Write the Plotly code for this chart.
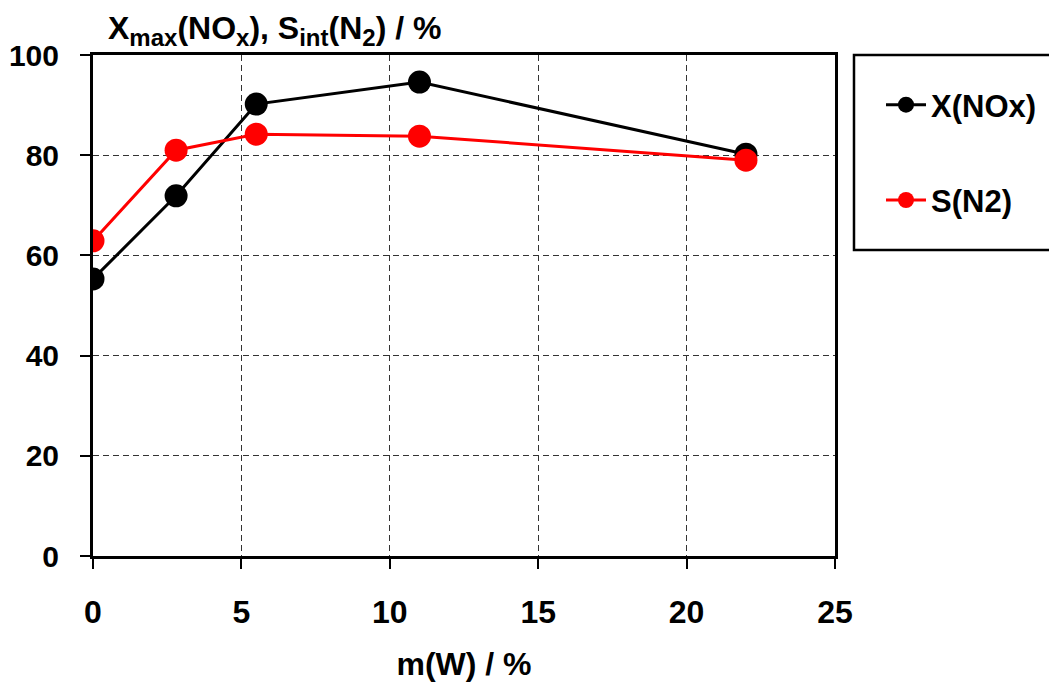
import plotly.graph_objects as go

w_content = [0, 2.8, 5.5, 11, 22]
x_nox = [55.3, 71.9, 90.2, 94.6, 80.2]
s_n2 = [62.9, 81.0, 84.2, 83.8, 79.0]

FONT = "Liberation Sans, Arial, sans-serif"

fig = go.Figure()
fig.add_trace(go.Scatter(x=w_content, y=x_nox, mode="lines+markers", name="X(NOx)",
                         legendgroup="a",
                         line=dict(color="black", width=3),
                         marker=dict(color="black", size=23)))
fig.add_trace(go.Scatter(x=w_content, y=s_n2, mode="lines+markers", name="S(N2)",
                         legendgroup="b",
                         line=dict(color="#ff0000", width=3),
                         marker=dict(color="#ff0000", size=23)))

axis_common = dict(showline=True, linecolor="black", linewidth=3, mirror=True,
                   ticks="outside", ticklen=10, tickwidth=2, tickcolor="black",
                   showgrid=True, gridcolor="#333333", griddash="6px,4px", gridwidth=1,
                   zeroline=False, automargin=False)

fig.update_xaxes(range=[0, 25], tickvals=[0, 5, 10, 15, 20, 25],
                 ticklabelstandoff=16,
                 tickfont=dict(family=FONT, size=32, color="black", weight="bold"),
                 title=dict(text="m(W) / %", standoff=25,
                            font=dict(family=FONT, size=32, color="black", weight="bold")),
                 **axis_common)
fig.update_yaxes(range=[0, 100], tickvals=[0, 20, 40, 60, 80, 100],
                 ticklabelstandoff=15,
                 tickfont=dict(family=FONT, size=30, color="black", weight="bold"),
                 **axis_common)

def sub(t):
    return '<sub><span style="font-size:24px">' + t + '</span></sub>'

title_text = "X" + sub("max") + "(NO" + sub("x") + "), S" + sub("int") + "(N" + sub("2") + ") / %"
fig.add_annotation(text=title_text,
                   xref="paper", yref="paper", x=0.018, y=1.0, xanchor="left", yanchor="bottom",
                   yshift=2, showarrow=False,
                   font=dict(family=FONT, size=32, color="black", weight="bold"))

# legend frame
fig.add_shape(type="rect", xref="paper", yref="paper",
              x0=1.0256, x1=1.33, y0=0.611, y1=1.0,
              line=dict(color="black", width=2.5), fillcolor="white", layer="below")

fig.update_layout(
    width=1049, height=674,
    margin=dict(l=85, r=222, t=47, b=126),
    plot_bgcolor="white", paper_bgcolor="white",
    showlegend=True,
    legend=dict(x=1.062, y=0.954, xanchor="left", yanchor="top",
                bgcolor="rgba(0,0,0,0)", borderwidth=0,
                tracegroupgap=52, itemwidth=40,
                font=dict(family=FONT, size=31, color="black", weight="bold")),
)

fig.write_html("out.html")
